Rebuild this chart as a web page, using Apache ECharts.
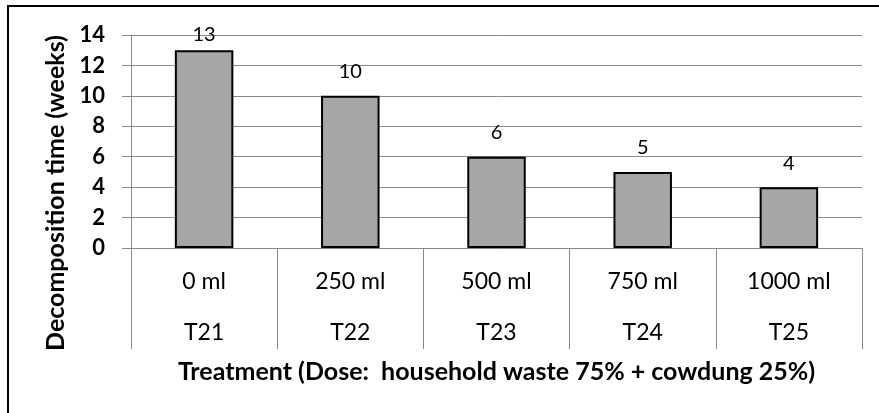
<!DOCTYPE html>
<html>
<head>
<meta charset="utf-8">
<script src="https://cdn.jsdelivr.net/npm/echarts@6/dist/echarts.min.js"></script>
<style>
  html, body { margin: 0; padding: 0; background: #fff; }
  #chart { width: 879px; height: 413px; }
</style>
</head>
<body>
<div id="chart"></div>
<script>
// doses (first level) and treatments (second level)
const doses = ['0 ml', '250 ml', '500 ml', '750 ml', '1000 ml'];
const treatments = ['T21', 'T22', 'T23', 'T24', 'T25'];
const weeks = [13, 10, 6, 5, 4];
const yTicks = [0, 2, 4, 6, 8, 10, 12, 14];

const font = 'Lato, "Noto Sans", sans-serif';
const grey = '#8a8a8a';

const chart = echarts.init(document.getElementById('chart'));

// excel keeps the label inside the plot, so the tallest one sits lower
const barData = weeks.map(v => v > 12 ? {value: v, label: {distance: 6}} : v);

const option = {
  animation: false,
  grid: {left: 131, right: 17, top: 35, bottom: 165},
  graphic: [
    {
      type: 'rect',
      shape: {x: 8, y: 6, width: 900, height: 500},
      style: {fill: 'none', stroke: '#000', lineWidth: 2}
    },
    {
      type: 'text',
      x: 56, y: 193,
      rotation: Math.PI / 2,
      style: {
        text: 'Decomposition time (weeks)',
        font: 'bold 25px ' + font,
        fill: '#000',
        align: 'center',
        verticalAlign: 'middle'
      }
    }
  ],
  xAxis: [
    {
      type: 'category',
      data: doses,
      axisLine: {lineStyle: {color: grey, width: 1}},
      axisTick: {show: true, interval: 0, length: 101, lineStyle: {color: grey}},
      axisLabel: {interval: 0, margin: 22, fontSize: 23, lineHeight: 23, color: '#000', fontFamily: font}
    },
    {
      type: 'category',
      data: treatments,
      position: 'bottom',
      axisLine: {show: false},
      axisTick: {show: false},
      axisLabel: {interval: 0, margin: 73, fontSize: 23, lineHeight: 23, color: '#000', fontFamily: font},
      name: 'Treatment (Dose:  household waste 75% + cowdung 25%)',
      nameLocation: 'middle',
      nameGap: 111,
      nameTextStyle: {fontSize: 25, fontWeight: 'bold', color: '#000', fontFamily: font, lineHeight: 25}
    }
  ],
  yAxis: {
    type: 'value',
    min: yTicks[0],
    max: yTicks[yTicks.length - 1],
    interval: 2,
    axisLine: {show: true, lineStyle: {color: grey, width: 1}},
    axisTick: {show: true, length: 9, lineStyle: {color: grey}},
    axisLabel: {margin: 26, fontSize: 22, fontWeight: 'bold', color: '#000', fontFamily: font},
    splitLine: {lineStyle: {color: grey, width: 1}}
  },
  series: [
    {
      type: 'bar',
      data: barData,
      barWidth: '40%',
      itemStyle: {color: '#a6a6a6', borderColor: '#000', borderWidth: 2},
      label: {
        show: true,
        position: 'top',
        distance: 14,
        fontSize: 20,
        color: '#000',
        fontFamily: font
      }
    }
  ]
};

chart.setOption(option);
</script>
</body>
</html>
